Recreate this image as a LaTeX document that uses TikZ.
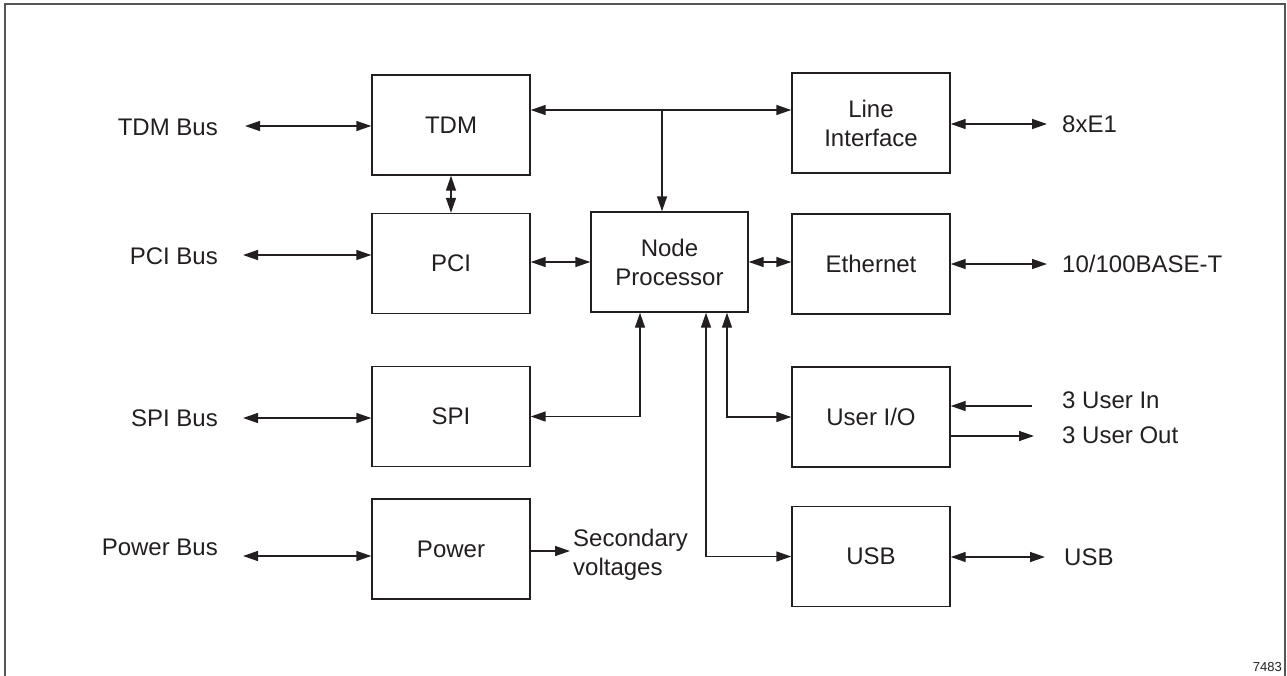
\documentclass[tikz,border=0pt]{standalone}
\usepackage{fontspec}
\setmainfont{Liberation Sans}
\usetikzlibrary{arrows.meta}
\definecolor{ink}{HTML}{231F20}
\definecolor{framegray}{HTML}{555555}
\begin{document}
\begin{tikzpicture}[x=1pt,y=-1pt,
  font=\fontsize{24}{29}\selectfont,
  wire/.style={draw=ink,line width=1.4pt},
  blk/.style={draw=ink,line width=1.4pt,minimum width=158pt,minimum height=100pt,
              inner sep=0pt,align=center,text=ink},
  lbl/.style={inner sep=0pt,text=ink,text height=17pt,text depth=0pt},
  tip/.style={wire,-{Triangle[length=15pt,width=10pt]}},
  dbl/.style={wire,{Triangle[length=15pt,width=10pt]}-{Triangle[length=15pt,width=10pt]}}]
\useasboundingbox (0,0) rectangle (1287,675);
% outer frame (open at the bottom)
\draw[framegray,line width=2pt] (4.5,676) -- (4.5,4) -- (1284.5,4) -- (1284.5,676);

% blocks
\node[blk] (tdm) at (451,125)   {TDM};
\node[blk] (li)  at (871,123)   {Line\\Interface};
\node[blk] (pci) at (451,263.5) {PCI};
\node[blk,minimum width=157pt] (np) at (669.5,262) {Node\\Processor};
\node[blk] (eth) at (871,264)   {Ethernet};
\node[blk] (spi) at (451,416.5) {SPI};
\node[blk] (uio) at (871,417)   {User I/O};
\node[blk] (pwr) at (451,549)   {Power};
\node[blk] (usb) at (871,556.5) {USB};

% external labels, left side
\node[lbl,anchor=east] (ltdm) at (218,126.5) {TDM Bus};
\node[lbl,anchor=east] (lpci) at (218,256) {PCI Bus};
\node[lbl,anchor=east] (lspi) at (218,418) {SPI Bus};
\node[lbl,anchor=east] (lpwr) at (218,547) {Power Bus};
% external labels, right side
\node[lbl,anchor=west] (le1)  at (1062,124) {8xE1};
\node[lbl,anchor=west] (leth) at (1062,264) {10/100BASE-T};
\node[lbl,anchor=west] (lin)  at (1062,400) {3 User In};
\node[lbl,anchor=west] (lout) at (1062,435) {3 User Out};
\node[lbl,anchor=west] (lusb) at (1064,557) {USB};
\node[inner sep=0pt,align=left,anchor=west,text=ink] (lsec) at (573,555) {Secondary\\voltages};
\node[inner sep=0pt,anchor=east,text=ink,font=\fontsize{13}{15}\selectfont] (fig) at (1282,667) {7483};

% bus end points
\coordinate (ptdm) at (245,126);
\coordinate (ppci) at (243,255);
\coordinate (pspi) at (243,418);
\coordinate (ppwr) at (243,556);
\coordinate (pe1)  at (1047,124);
\coordinate (peth) at (1047,264);
\coordinate (pusb) at (1045,557);
\coordinate (pin)  at (1032,406);
\coordinate (pout) at (1034,436);
\coordinate (psec) at (570,551);
\coordinate (top)  at (662,110);

% left buses
\draw[dbl] (ptdm) -- (ptdm -| tdm.west);
\draw[dbl] (ppci) -- (ppci -| pci.west);
\draw[dbl] (pspi) -- (pspi -| spi.west);
\draw[dbl] (ppwr) -- (ppwr -| pwr.west);

% right side links
\draw[dbl] (pe1 -| li.east) -- (pe1);
\draw[dbl] (peth -| eth.east) -- (peth);
\draw[dbl] (pusb -| usb.east) -- (pusb);
\draw[tip] (pin) -- (pin -| uio.east);
\draw[tip] (pout -| uio.east) -- (pout);
\draw[tip] (psec -| pwr.east) -- (psec);

% internal links
\draw[dbl] (top -| tdm.east) -- (top -| li.west);
\draw[tip] (top) -- (top |- np.north);
\draw[dbl] (tdm.south) -- (pci.north);
\draw[dbl] (np.west -| pci.east) -- (np.west);
\draw[dbl] (np.east) -- (np.east -| eth.west);
\draw[dbl] ([xshift=-29.5pt]np.south) |- (spi.east);
\draw[dbl] ([xshift=57.5pt]np.south) |- (uio.west);
\draw[dbl] ([xshift=36.5pt]np.south) |- (usb.west);
\end{tikzpicture}
\end{document}
